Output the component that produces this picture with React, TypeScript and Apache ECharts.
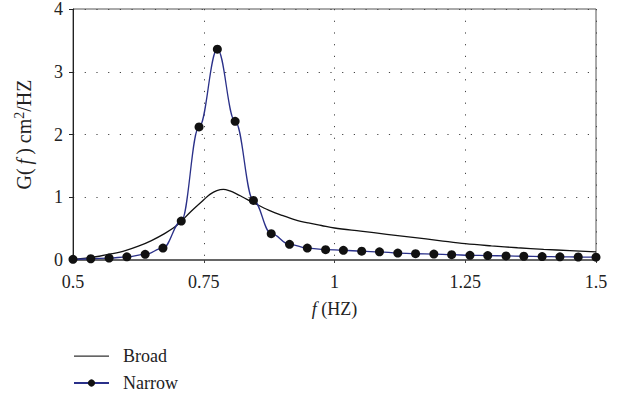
import React, { useEffect, useRef } from "react";
import * as echarts from "echarts";

const narrowX = [0.5, 0.534, 0.569, 0.603, 0.638, 0.672, 0.707, 0.741, 0.776, 0.81, 0.845, 0.879, 0.914, 0.948, 0.983, 1.017, 1.052, 1.086, 1.121, 1.155, 1.19, 1.224, 1.259, 1.293, 1.328, 1.362, 1.397, 1.431, 1.466, 1.5];
const narrowY = [0.01, 0.02, 0.03, 0.05, 0.09, 0.19, 0.62, 2.12, 3.36, 2.21, 0.95, 0.42, 0.25, 0.19, 0.165, 0.155, 0.14, 0.13, 0.11, 0.1, 0.095, 0.085, 0.075, 0.07, 0.065, 0.06, 0.055, 0.05, 0.048, 0.045];

const broadX = [0.5, 0.525, 0.55, 0.575, 0.6, 0.625, 0.65, 0.675, 0.7, 0.725, 0.75, 0.7625, 0.775, 0.7875, 0.8, 0.8125, 0.825, 0.85, 0.875, 0.9, 0.925, 0.95, 0.975, 1.0, 1.05, 1.1, 1.15, 1.2, 1.25, 1.3, 1.35, 1.4, 1.45, 1.5];
const broadY = [0.01, 0.03, 0.06, 0.1, 0.15, 0.22, 0.31, 0.42, 0.56, 0.77, 0.96, 1.05, 1.105, 1.125, 1.1, 1.055, 1.0, 0.89, 0.79, 0.71, 0.64, 0.59, 0.55, 0.51, 0.46, 0.41, 0.36, 0.31, 0.26, 0.225, 0.195, 0.17, 0.15, 0.13];

const xTicks = [0.5, 0.75, 1, 1.25, 1.5];
const yTicks = [0, 1, 2, 3, 4];

const FONT = "'Liberation Serif', 'DejaVu Serif', serif";

export default function App() {
  const ref = useRef<HTMLDivElement>(null);
  useEffect(() => {
    if (!ref.current) return;
    const chart = echarts.init(ref.current, undefined, { renderer: "svg" });
    const dotted = { color: "#444", width: 1, type: [1.2, 10.5] as any };
    chart.setOption({
      animation: false,
      backgroundColor: "#fff",
      textStyle: { fontFamily: FONT, color: "#222" },
      grid: { left: 73, right: 31, top: 9, bottom: 140, show: true, borderColor: "#555", borderWidth: 1, backgroundColor: "transparent" },
      xAxis: {
        type: "value",
        min: 0.5,
        max: 1.5,
        interval: 0.25,
        name: "{i|f} (HZ)",
        nameLocation: "middle",
        nameGap: 40,
        nameTextStyle: { fontFamily: FONT, fontSize: 18, color: "#222", rich: { i: { fontStyle: "italic", fontFamily: FONT, fontSize: 18, color: "#222" } } },
        axisLine: { show: true, lineStyle: { color: "#666", width: 2 } },
        axisTick: { show: true, length: 3, lineStyle: { color: "#444" } },
        axisLabel: { fontFamily: FONT, fontSize: 18, color: "#222", margin: 13, formatter: (v: number) => (xTicks.includes(v) ? String(v) : "") },
        splitLine: { show: true, lineStyle: dotted },
      },
      yAxis: {
        type: "value",
        min: 0,
        max: 4,
        interval: 1,
        name: "G({i|\u2009f\u2009}) cm{s|2}/HZ",
        nameLocation: "middle",
        nameGap: 38,
        nameTextStyle: {
          fontFamily: FONT, fontSize: 20, color: "#222",
          rich: {
            i: { fontStyle: "italic", fontFamily: FONT, fontSize: 20, color: "#222" },
            s: { fontFamily: FONT, fontSize: 14, color: "#222", verticalAlign: "top", padding: [0, 0, 9, 0] },
          },
        },
        axisLine: { show: true, lineStyle: { color: "#222", width: 1 } },
        axisTick: { show: true, length: 4, lineStyle: { color: "#222" } },
        axisLabel: { fontFamily: FONT, fontSize: 18, color: "#222", margin: 10, formatter: (v: number) => (yTicks.includes(v) ? String(v) : "") },
        splitLine: { show: true, lineStyle: dotted },
      },
      legend: {
        orient: "vertical",
        left: 73,
        top: 347,
        padding: 0,
        itemWidth: 35,
        itemHeight: 9,
        itemGap: 9,
        textStyle: { fontFamily: FONT, fontSize: 18, lineHeight: 18, color: "#222", padding: [0, 0, 0, 9] },
        data: [
          { name: "Broad", icon: "path://M0,4H35V5.2H0Z M0,0H0.01V0.01H0Z M34.99,8.99H35V9H34.99Z", itemStyle: { color: "#333" } },
          { name: "Narrow" },
        ],
      },
      series: [
        {
          name: "Broad",
          type: "line",
          data: broadX.map((x, i) => [x, broadY[i]]),
          smooth: 0.35,
          symbol: "none",
          lineStyle: { color: "#111", width: 1.3 },
          itemStyle: { color: "#111" },
          z: 2,
        },
        {
          name: "Narrow",
          type: "line",
          data: narrowX.map((x, i) => [x, narrowY[i]]),
          smooth: 0.4,
          smoothMonotone: "x",
          symbol: "circle",
          symbolSize: 9,
          clip: false,
          lineStyle: { color: "#2a3089", width: 1.3 },
          itemStyle: { color: "#111" },
          z: 3,
        },
      ],
    });
    return () => chart.dispose();
  }, []);
  return <div ref={ref} style={{ width: 627, height: 400, position: "absolute", left: 0, top: 0 }} />;
}
